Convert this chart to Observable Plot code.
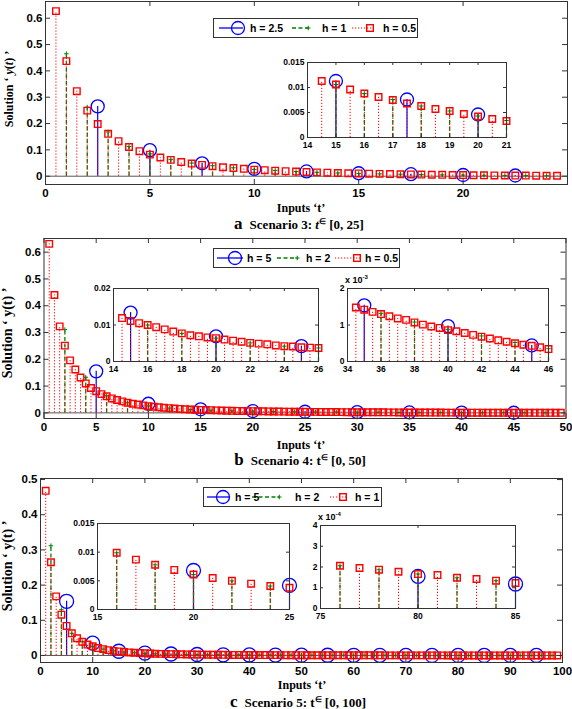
<!DOCTYPE html>
<html><head><meta charset="utf-8">
<script src="https://cdn.jsdelivr.net/npm/d3@7"></script>
<script src="https://cdn.jsdelivr.net/npm/@observablehq/plot@0.6"></script>
<style>
body{margin:0;background:#fff;}
#root{position:relative;width:572px;height:709px;overflow:hidden;background:#fff;}
.lbl{position:absolute;white-space:nowrap;font-family:"Liberation Serif","Times New Roman",serif;font-weight:bold;color:#000;line-height:1;}
.yl{font-size:12px;}
.yl2{font-size:14px;}
.xl{font-size:12px;}
.cap{font-size:13px;}
.cap .lead{font-size:17px;margin-right:7px;}
.cap sup{font-size:8px;vertical-align:5px;}
.exp{position:absolute;font-family:"Liberation Sans",Arial,sans-serif;font-weight:bold;font-size:9px;line-height:1;white-space:nowrap;}
.exp sup{font-size:6px;vertical-align:4px;}
</style></head>
<body><div id="root"></div>
<script>
// ---------------- DATA ----------------
// Scenario 3 (panel a), t in [0,25]
const aTred = d3.range(1, 50).map(i => i * 0.5);          // h = 0.5 : t = 0.5 ... 24.5
const aVred = [0.627,0.437,0.323,0.249,0.198,0.161,0.133,0.111,0.095,0.082,
  0.071,0.062,0.054,0.048,0.043,0.038,0.034,0.031,0.028,0.025,
  0.023,0.021,0.019,0.0175,0.016,0.0145,0.0133,0.0122,0.0113,0.0106,
  0.0096,0.0088,0.0081,0.0075,0.0068,0.0063,0.0057,0.0053,0.0047,0.0042,
  0.0037,0.0033,0.0030,0.0027,0.0025,0.0023,0.0021,0.0019,0.0017];
const aTgreen = d3.range(1, 25);                            // h = 1 : t = 1 ... 24
const aVgreen = [0.465,0.262,0.168,0.113,0.085,0.064,0.050,0.040,0.032,0.026,
  0.022,0.018,0.015,0.0125,0.0106,0.0088,0.0076,0.0063,0.0053,0.0043,
  0.0034,0.0028,0.0023,0.0019];
const aTblue = d3.range(1, 10).map(i => i * 2.5);          // h = 2.5 : t = 2.5 ... 22.5
const aVblue = [0.265,0.099,0.049,0.028,0.018,0.0113,0.0076,0.0046,0.0026];

// Scenario 4 (panel b), t in [0,50]
const bTred = d3.range(1, 100).map(i => i * 0.5);         // h = 0.5 : t = 0.5 ... 49.5
const bVred = [0.631,0.440,0.323,0.251,0.196,0.162,0.132,0.110,0.093,0.081,
  0.070,0.062,0.054,0.048,0.043,0.038,0.034,0.031,0.028,0.025,
  0.023,0.021,0.019,0.0175,0.016,0.0148,0.0137,0.0127,0.0119,0.0111,
  0.0105,0.0100,0.0094,0.0088,0.0082,0.0077,0.0072,0.0069,0.0066,0.0064,
  0.0060,0.0057,0.0054,0.0051,0.0049,0.0047,0.0044,0.0042,0.0041,0.0039,
  0.0038,0.0037,0.0035,0.0033,0.0031,0.0030,0.0028,0.0027,0.0026,0.0025,
  0.0024,0.0023,0.0022,0.0021,0.0020,0.0019,0.0018,0.0016,0.00148,0.00142,
  0.00136,0.00130,0.00124,0.00118,0.00114,0.00107,0.00101,0.00096,0.00092,0.00086,
  0.00083,0.00078,0.00073,0.00068,0.00063,0.00058,0.00054,0.00050,0.00046,0.00043,
  0.00039,0.00034,0.00031,0.00028,0.00025,0.00022,0.00019,0.00016,0.00013];
const bTgreen = d3.range(1, 25).map(i => i * 2);           // h = 2 : t = 2 ... 48
const bVgreen = [0.311,0.133,0.064,0.038,0.026,0.018,0.0128,0.0100,0.0077,0.0064,
  0.0051,0.0042,0.0037,0.0030,0.0025,0.0021,0.0016,0.00132,0.00108,0.00088,
  0.00070,0.00052,0.00035,0.00022];
const bTblue = d3.range(1, 10).map(i => i * 5);            // h = 5 : t = 5 ... 45
const bVblue = [0.155,0.034,0.0134,0.0069,0.0042,0.0026,0.00154,0.00097,0.00044];

// Scenario 5 (panel c), t in [0,100]
const cTred = d3.range(1, 100);                            // h = 1 : t = 1 ... 99
const cVred = [0.468,0.265,0.168,0.116,0.084,0.063,0.049,0.039,0.031,0.026,
  0.021,0.018,0.0152,0.0131,0.0114,0.0099,0.0087,0.0078,0.0069,0.0061,
  0.0055,0.0050,0.0045,0.0041,0.0038,0.0035,0.0032,0.0030,0.0028,0.0026,
  0.0024,0.0022,0.0021,0.0019,0.0018,0.0017,0.0016,0.0015,0.0014,0.0013,
  0.00125,0.00118,0.00111,0.00105,0.00099,0.00093,0.00088,0.00083,0.00078,0.00074,
  0.00070,0.00066,0.00062,0.00059,0.00056,0.00053,0.00050,0.00047,0.00045,0.00043,
  0.00041,0.00039,0.00037,0.00035,0.00033,0.00031,0.00030,0.00028,0.00027,0.00026,
  0.00025,0.00024,0.00023,0.00022,0.00021,0.000206,0.000195,0.000187,0.000177,0.000166,
  0.000161,0.000148,0.000142,0.000134,0.000123,0.000118,0.000112,0.000106,0.000100,0.000095,
  0.000090,0.000085,0.000080,0.000076,0.000072,0.000068,0.000064,0.000060,0.000057];
const cTgreen = d3.range(1, 50).map(i => i * 2);           // h = 2 : t = 2 ... 98
const cVgreen = [0.312,0.130,0.063,0.039,0.026,0.018,0.0131,0.0099,0.0078,0.0061,
  0.0050,0.0041,0.0035,0.0030,0.0026,0.0022,0.0019,0.0017,0.0015,0.0013,
  0.00118,0.00105,0.00093,0.00083,0.00074,0.00066,0.00059,0.00053,0.00047,0.00043,
  0.00039,0.00035,0.00031,0.00028,0.00026,0.00024,0.00022,0.000206,0.000187,0.000166,
  0.000148,0.000134,0.000118,0.000106,0.000095,0.000085,0.000076,0.000068,0.000060];
const cTblue = d3.range(1, 20).map(i => i * 5);            // h = 5 : t = 5 ... 95
const cVblue = [0.154,0.035,0.012,0.0068,0.0042,0.0027,0.0019,0.0014,0.0010,0.0008,
  0.0006,0.00045,0.00035,0.00028,0.00022,0.000155,0.000118,0.00009,0.00007];

// tick values
const aXTicks = [0,5,10,15,20,25], aXLabels = [0,5,10,15,20];
const bXTicks = [0,5,10,15,20,25,30,35,40,45,50];
const cXTicks = [0,10,20,30,40,50,60,70,80,90,100];
const abYTicks = [0,0.1,0.2,0.3,0.4,0.5,0.6];
const cYTicks = [0,0.1,0.2,0.3,0.4,0.5];
const aInX = [14,15,16,17,18,19,20,21], aInY = [0,0.005,0.01,0.015];
const b1InX = [14,16,18,20,22,24,26], b1InY = [0,0.01,0.02];
const b2InX = [34,36,38,40,42,44,46], b2InY = [0,0.001,0.002];
const c1InX = [15,20,25], c1InY = [0,0.005,0.01,0.015];
const c2InX = [75,80,85], c2InY = [0,0.0001,0.0002,0.0003,0.0004];

// legend labels
const aLegend = ["h = 2.5","h = 1","h = 0.5"];
const bLegend = ["h = 5","h = 2","h = 0.5"];
const cLegend = ["h = 5","h = 2","h = 1"];

// ---------------- DRAWING ----------------
const root = document.getElementById("root");
const COL = {blue:"#0000ff", green:"#008000", red:"#ff0000", axis:"#333"};
const pts = (T, V) => T.map((t, i) => ({t, v: V[i]}));
const fmtG = d3.format("~g");

function stemPlot(cfg) {
  const [fx0, fy0, fx1, fy1] = cfg.frame;
  const m = cfg.margin;
  const W = fx1 - fx0, H = fy1 - fy0;
  const tl = cfg.tickLen;
  const filt = d => cfg.inset ? d.filter(p => p.t > cfg.xDomain[0] + 1e-9 && p.t <= cfg.xDomain[1] + 1e-9) : d;
  const b = filt(cfg.blue), g = filt(cfg.green), r = filt(cfg.red);
  const marks = [Plot.frame({fill: "white", stroke: null})];
  if (!cfg.inset) marks.push(Plot.ruleY([0], {stroke: "#555", strokeWidth: 1}));
  marks.push(
    Plot.ruleX(b, {x: "t", y1: 0, y2: "v", stroke: COL.blue, strokeWidth: 1.2}),
    Plot.dot(b, {x: "t", y: "v", r: cfg.circleR, stroke: COL.blue, strokeWidth: 1.3, fill: "none"}),
    Plot.ruleX(g, {x: "t", y1: 0, y2: "v", stroke: COL.green, strokeWidth: 1.3, strokeDasharray: "4,2.5"}),
    Plot.dot(g, {x: "t", y: "v", symbol: "plus", r: 1.6, stroke: COL.green, strokeWidth: 1}),
    Plot.ruleX(r, {x: "t", y1: 0, y2: "v", stroke: COL.red, strokeWidth: 1, strokeDasharray: "1.2,1.8"}),
    Plot.dot(r, {x: "t", y: "v", symbol: "square", r: cfg.squareR, stroke: COL.red, strokeWidth: 1.4, fill: "none"}),
    Plot.frame({stroke: COL.axis, strokeWidth: 1}),
    Plot.ruleX(cfg.xTicks, {x: d => d, insetTop: H - tl, stroke: COL.axis}),
    Plot.ruleX(cfg.xTicks, {x: d => d, insetBottom: H - tl, stroke: COL.axis}),
    Plot.ruleY(cfg.yTicks, {y: d => d, insetRight: W - tl, stroke: COL.axis}),
    Plot.ruleY(cfg.yTicks, {y: d => d, insetLeft: W - tl, stroke: COL.axis}),
    Plot.axisX(cfg.xLabels, {tickSize: 0, tickPadding: cfg.xPad, tickFormat: cfg.xFmt || fmtG, label: null,
      fontSize: cfg.fs, fontWeight: "bold", fill: "#000"}),
    Plot.axisY(cfg.yLabels, {tickSize: 0, tickPadding: cfg.yPad, tickFormat: cfg.yFmt || fmtG, label: null,
      fontSize: cfg.fs, fontWeight: "bold", fill: "#000"})
  );
  const svg = Plot.plot({
    width: W + m.l + m.r, height: H + m.t + m.b,
    marginLeft: m.l, marginRight: m.r, marginTop: m.t, marginBottom: m.b,
    x: {domain: cfg.xDomain}, y: {domain: cfg.yDomain},
    style: {background: "transparent", overflow: "visible", fontFamily: cfg.font || '"Liberation Sans", Arial, sans-serif', fontWeight: "bold", maxWidth: "none"},
    marks
  });
  svg.style.position = "absolute";
  svg.style.left = (fx0 - m.l) + "px";
  svg.style.top = (fy0 - m.t) + "px";
  root.appendChild(svg);
}

function legend(box, labels, layout) {
  const svg = d3.create("svg").attr("width", box.w + 2).attr("height", box.h + 2)
    .style("position", "absolute").style("left", (box.x - 1) + "px").style("top", (box.y - 1) + "px");
  svg.append("rect").attr("x", 1.5).attr("y", 1.5).attr("width", box.w - 1).attr("height", box.h - 1)
    .attr("fill", "#fff").attr("stroke", "#333").attr("stroke-width", 1);
  const cy = 1 + box.h / 2;
  const [lb, lg, lr] = layout;
  svg.append("line").attr("x1", lb.s0 + 1).attr("x2", lb.s1 + 1).attr("y1", cy).attr("y2", cy).attr("stroke", COL.blue).attr("stroke-width", 1.3);
  svg.append("circle").attr("cx", lb.m + 1).attr("cy", cy).attr("r", 6.5).attr("fill", "none").attr("stroke", COL.blue).attr("stroke-width", 1.3);
  svg.append("line").attr("x1", lg.s0 + 1).attr("x2", lg.s1 + 1).attr("y1", cy).attr("y2", cy).attr("stroke", COL.green).attr("stroke-width", 1.5).attr("stroke-dasharray", "4,2.5");
  svg.append("path").attr("d", `M${lg.s1 - 1},${cy} h4.5 M${lg.s1 + 1.25},${cy - 2.2} v4.4`).attr("stroke", COL.green).attr("stroke-width", 1.1);
  svg.append("line").attr("x1", lr.s0 + 1).attr("x2", lr.s1 + 1).attr("y1", cy).attr("y2", cy).attr("stroke", COL.red).attr("stroke-width", 1).attr("stroke-dasharray", "1.2,1.8");
  svg.append("rect").attr("x", lr.m + 1 - 3.3).attr("y", cy - 3.3).attr("width", 6.6).attr("height", 6.6).attr("fill", "none").attr("stroke", COL.red).attr("stroke-width", 1.4);
  [lb, lg, lr].forEach((it, i) => {
    svg.append("text").attr("x", it.tx + 1).attr("y", cy).attr("dy", "0.36em").text(labels[i])
      .attr("font-family", '"Liberation Sans", Arial, sans-serif').attr("font-weight", "bold").attr("font-size", 10.5).attr("fill", "#000");
  });
  root.appendChild(svg.node());
}

function label(html, x, y, cls, rot) {
  const d = document.createElement("div");
  d.className = "lbl " + cls;
  d.innerHTML = html;
  d.style.left = x + "px"; d.style.top = y + "px";
  d.style.transform = "translate(-50%,-50%)" + (rot ? " rotate(-90deg)" : "");
  root.appendChild(d);
}
function expo(html, x, y) {
  const d = document.createElement("div");
  d.className = "exp"; d.innerHTML = html;
  d.style.left = x + "px"; d.style.top = y + "px";
  root.appendChild(d);
}

const A = {blue: pts(aTblue, aVblue), green: pts(aTgreen, aVgreen), red: pts(aTred, aVred)};
const B = {blue: pts(bTblue, bVblue), green: pts(bTgreen, bVgreen), red: pts(bTred, bVred)};
const C = {blue: pts(cTblue, cVblue), green: pts(cTgreen, cVgreen), red: pts(cTred, cVred)};

const mainOpts = {tickLen: 5, fs: 11.5, xPad: 4, yPad: 3, circleR: 6.5, squareR: 3.7};
const inOpts = {inset: true, tickLen: 3, fs: 8.5, xPad: 4, yPad: 3, circleR: 6.5, squareR: 3.7,
  font: '"Liberation Sans Narrow", "Liberation Sans", Arial, sans-serif'};

// panel a
stemPlot({...mainOpts, ...A, frame: [45, 1, 567, 184], margin: {l: 45, r: 5, t: 1, b: 16},
  xDomain: [0, 25], yDomain: [-0.0315, 0.6635], xTicks: aXTicks, xLabels: aXLabels, yTicks: abYTicks, yLabels: abYTicks});
// panel b
stemPlot({...mainOpts, ...B, frame: [43.5, 238, 565.5, 418], margin: {l: 43.5, r: 6.5, t: 2, b: 17},
  xDomain: [0, 50], yDomain: [-0.021, 0.651], xTicks: bXTicks, xLabels: bXTicks, yTicks: abYTicks, yLabels: abYTicks});
// panel c
stemPlot({...mainOpts, ...C, circleR: 7, frame: [40, 478, 562, 662], margin: {l: 40, r: 10, t: 2, b: 17},
  xDomain: [0, 100], yDomain: [-0.02, 0.503], xTicks: cXTicks, xLabels: cXTicks, yTicks: cYTicks, yLabels: cYTicks});

// insets
stemPlot({...inOpts, ...A, frame: [307, 62, 506, 137], margin: {l: 32, r: 10, t: 8, b: 14},
  xDomain: [14, 21], yDomain: [0, 0.015], xTicks: aInX, xLabels: aInX, yTicks: aInY, yLabels: aInY});
stemPlot({...inOpts, ...B, frame: [113, 288, 318, 361], margin: {l: 30, r: 10, t: 8, b: 14},
  xDomain: [14, 26], yDomain: [0, 0.02], xTicks: b1InX, xLabels: b1InX, yTicks: b1InY, yLabels: b1InY});
stemPlot({...inOpts, ...B, frame: [347, 288, 548, 361], margin: {l: 20, r: 10, t: 8, b: 14},
  xDomain: [34, 46], yDomain: [0, 0.002], xTicks: b2InX, xLabels: b2InX, yTicks: b2InY, yLabels: b2InY,
  yFmt: d => String(Math.round(d * 1000))});
stemPlot({...inOpts, ...C, circleR: 7, frame: [97, 523, 289, 609], margin: {l: 30, r: 10, t: 8, b: 14},
  xDomain: [15, 25], yDomain: [0, 0.015], xTicks: c1InX, xLabels: c1InX, yTicks: c1InY, yLabels: c1InY});
stemPlot({...inOpts, ...C, circleR: 7, frame: [320, 525, 515, 608], margin: {l: 20, r: 10, t: 8, b: 14},
  xDomain: [75, 85], yDomain: [0, 0.0004], xTicks: c2InX, xLabels: c2InX, yTicks: c2InY, yLabels: c2InY,
  yFmt: d => String(Math.round(d * 10000))});

expo("x 10<sup>-3</sup>", 345, 274);
expo("x 10<sup>-4</sup>", 318, 511);

// legends
legend({x: 213, y: 18, w: 205, h: 20}, aLegend,
  [{s0: 6, s1: 30, m: 25, tx: 37}, {s0: 79, s1: 95, tx: 109}, {s0: 139, s1: 159, m: 157, tx: 170}]);
legend({x: 213, y: 248, w: 187, h: 20}, bLegend,
  [{s0: 4, s1: 30, m: 22, tx: 34}, {s0: 64, s1: 84, tx: 93}, {s0: 122, s1: 147, m: 144, tx: 152}]);
legend({x: 203, y: 487, w: 179, h: 20}, cLegend,
  [{s0: 4, s1: 27, m: 20, tx: 32}, {s0: 49, s1: 76, tx: 92}, {s0: 127, s1: 144, m: 140, tx: 152}]);

// axis titles and captions
label("Solution ‘ <i>y</i>(<i>t</i>) ’", 9, 89, "yl", true);
label("Solution ‘ y(t) ’", 8, 333, "yl2", true);
label("Solution ‘ y(t) ’", 8, 566, "yl2", true);
label("Inputs ‘t’", 301, 208, "xl");
label("Inputs ‘t’", 301, 445, "xl");
label("Inputs ‘t’", 302, 685, "xl");
label('<span class="lead">a</span>Scenario 3: <i>t</i><sup>∈</sup> [0, 25]', 299, 223, "cap");
label('<span class="lead">b</span>Scenario 4: t<sup>∈</sup> [0, 50]', 300, 459, "cap");
label('<span class="lead">c</span>Scenario 5: t<sup>∈</sup> [0, 100]', 298, 701, "cap");
</script>
</body></html>
